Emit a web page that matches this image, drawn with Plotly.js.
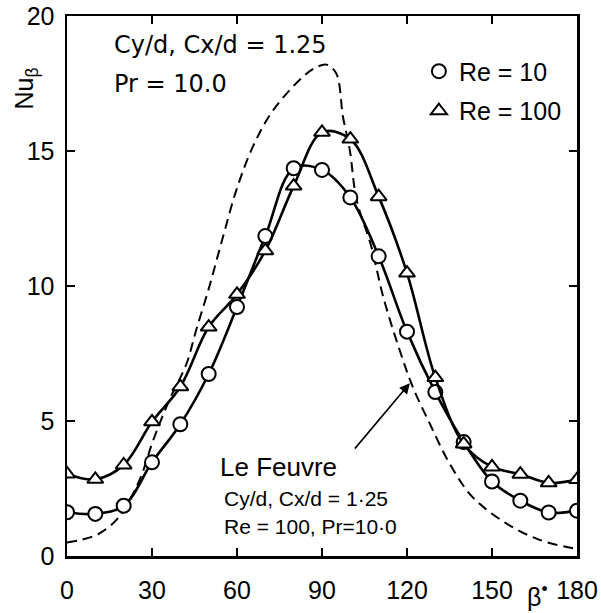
<!DOCTYPE html>
<html>
<head>
<meta charset="utf-8">
<script src="https://cdn.plot.ly/plotly-3.0.1.min.js"></script>
<style>html,body{margin:0;padding:0;background:#fff;}#chart{width:601px;height:613px;}</style>
</head>
<body>
<div id="chart"></div>
<script>
// Data
const beta = [0, 10, 20, 30, 40, 50, 60, 70, 80, 90, 100, 110, 120, 130, 140, 150, 160, 170, 180];
const nuRe10 = [1.62, 1.56, 1.86, 3.47, 4.88, 6.74, 9.22, 11.85, 14.36, 14.3, 13.28, 11.1, 8.31, 6.07, 4.22, 2.76, 2.05, 1.61, 1.68];
const nuRe100 = [3.04, 2.84, 3.37, 4.97, 6.27, 8.48, 9.69, 11.31, 13.7, 15.69, 15.44, 13.31, 10.48, 6.61, 4.15, 3.3, 3.03, 2.71, 2.83];
const leFeuvreBeta = [0, 5, 11.5, 18.5, 25.6, 30.3, 36.2, 42.1, 45.6, 50.3, 55, 59.8, 65.6, 72.7, 83.3, 88, 91.6, 95, 97.4, 99.8, 102.2, 107.4, 111.6, 117.4, 122, 128, 135, 143, 155, 167, 179];
const leFeuvreNu = [0.5, 0.6, 0.84, 1.46, 2.81, 4.25, 5.8, 7.1, 8.37, 10.0, 11.8, 13.56, 15.16, 16.5, 17.75, 18.1, 18.2, 17.88, 16.27, 15.04, 13.2, 11.46, 9.6, 7.63, 6.27, 4.91, 3.43, 2.2, 1.21, 0.59, 0.28];
const legendLabels = ["Re = 10", "Re = 100"];
const xTicks = [0, 30, 60, 90, 120, 150, 180];
const yTicks = [0, 5, 10, 15, 20];

const FONT = "Liberation Sans, Arial, sans-serif";
const FONT2 = "DejaVu Sans, sans-serif";
const markerCommon = {size: 14, color: "#fff", line: {color: "#000", width: 2}};

const traces = [
  {x: leFeuvreBeta, y: leFeuvreNu, mode: "lines", line: {color: "#000", width: 2, dash: "10px,6px", shape: "spline"}, showlegend: false, hoverinfo: "skip"},
  {x: beta, y: nuRe10, mode: "lines+markers", line: {color: "#000", width: 2.6, shape: "spline"},
   marker: Object.assign({symbol: "circle"}, markerCommon), showlegend: false},
  {x: beta, y: nuRe100, mode: "lines+markers", line: {color: "#000", width: 2.6, shape: "spline"},
   marker: Object.assign({symbol: "triangle-up"}, markerCommon), showlegend: false},
  {x: [null], y: [null], mode: "markers", name: legendLabels[0], legendgroup: "a",
   marker: Object.assign({symbol: "circle"}, markerCommon)},
  {x: [null], y: [null], mode: "markers", name: legendLabels[1], legendgroup: "b",
   marker: Object.assign({symbol: "triangle-up"}, markerCommon)}
];

const axisCommon = {
  showgrid: false, zeroline: false, showline: true, linecolor: "#000", linewidth: 2.5,
  ticks: "inside", ticklen: 8, tickwidth: 2, tickcolor: "#000", mirror: "ticks",
  tickfont: {family: FONT, size: 25, color: "#000"}
};

const layout = {
  width: 601, height: 613,
  margin: {l: 67, r: 24, t: 16, b: 57, pad: 0},
  paper_bgcolor: "#fff", plot_bgcolor: "#fff",
  font: {family: FONT, color: "#000"},
  xaxis: Object.assign({}, axisCommon, {range: [0, 180], tickvals: xTicks, ticklabelstandoff: 10}),
  yaxis: Object.assign({}, axisCommon, {range: [0, 20], tickvals: yTicks, ticklabelstandoff: 5}),
  showlegend: true,
  legend: {x: 0.69, y: 0.94, xanchor: "left", yanchor: "top", traceorder: "grouped", tracegroupgap: 4,
           bgcolor: "rgba(0,0,0,0)", font: {family: FONT, size: 25, color: "#000"}},
  annotations: [
    {xref: "paper", yref: "paper", x: 0.088, y: 0.947, xanchor: "left", yanchor: "middle", showarrow: false,
     text: "Cy/d, Cx/d = 1.25", font: {family: FONT2, size: 24}},
    {xref: "paper", yref: "paper", x: 0.088, y: 0.874, xanchor: "left", yanchor: "middle", showarrow: false,
     text: "Pr = 10.0", font: {family: FONT2, size: 24}},
    {xref: "paper", yref: "paper", x: 0.297, y: 0.165, xanchor: "left", yanchor: "middle", showarrow: false,
     text: "Le Feuvre", font: {family: FONT, size: 26}},
    {xref: "paper", yref: "paper", x: 0.303, y: 0.106, xanchor: "left", yanchor: "middle", showarrow: false,
     text: "Cy/d, Cx/d = 1·25", font: {family: FONT, size: 21}},
    {xref: "paper", yref: "paper", x: 0.303, y: 0.054, xanchor: "left", yanchor: "middle", showarrow: false,
     text: "Re = 100, Pr=10·0", font: {family: FONT, size: 21}},
    {xref: "x", yref: "y", x: 121, y: 6.4, ax: -58, ay: 69, text: " ", showarrow: true,
     arrowhead: 2, arrowsize: 1.3, arrowwidth: 1.6, arrowcolor: "#000", standoff: 0},
    {xref: "paper", yref: "paper", x: -0.08, y: 0.866, xanchor: "center", yanchor: "middle", showarrow: false,
     textangle: -90, text: "Nu<sub>β</sub>", font: {family: FONT, size: 25}},
    {xref: "paper", yref: "paper", x: 0.922, y: -0.072, xanchor: "center", yanchor: "middle", showarrow: false,
     text: "β<sup>•</sup>", font: {family: FONT, size: 25}}
  ]
};

Plotly.newPlot("chart", traces, layout, {displayModeBar: false, staticPlot: true});
</script>
</body>
</html>
